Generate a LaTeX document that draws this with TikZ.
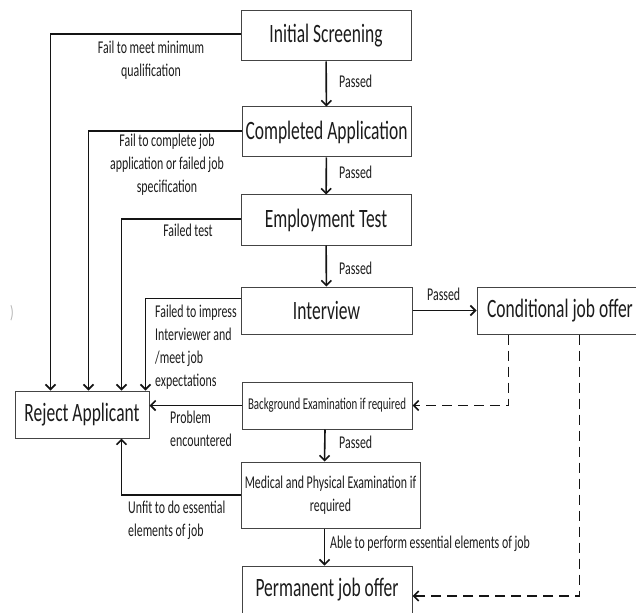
\documentclass[tikz,border=0pt]{standalone}
\usepackage{fontspec}
\setmainfont{Carlito}[FakeStretch=0.66]
\usetikzlibrary{arrows.meta,calc}
\definecolor{txt}{HTML}{1C1C1C}
\definecolor{boxc}{HTML}{444444}
\definecolor{linec}{HTML}{141414}
\begin{document}
\begin{tikzpicture}[x=1pt,y=-1pt,
  box/.style={draw=boxc, line width=1pt, fill=white, inner sep=0pt, text=txt, font=\fontsize{26.5}{30}\selectfont},
  lbl/.style={inner sep=0pt, text=txt, font=\fontsize{18}{23}\selectfont},
  conn/.style={line width=1.6pt, draw=linec},
  arr/.style={conn, -{Straight Barb[length=5pt,width=10pt]}},
  darr/.style={arr, line width=1.7pt, dash pattern=on 10pt off 6pt}]
\clip (0,0) rectangle (636,612);
\fill[white] (0,0) rectangle (636,612);

% boxes
\node[box, minimum width=170pt, minimum height=50pt] (IS) at (326,36) {Initial Screening};
\node[box, minimum width=169pt, minimum height=50pt] (CA) at (326.5,132) {Completed Application};
\node[box, minimum width=170pt, minimum height=50pt] (ET) at (326,220) {Employment Test};
\node[box, minimum width=171pt, minimum height=47pt] (IV) at (326.5,310.5) {Interview};
\node[box, minimum width=166pt, minimum height=47pt] (CJ) at (560,310.5) {Conditional job offer};
\node[box, minimum width=134pt, minimum height=47pt] (RA) at (82,414.5) {Reject Applicant};
\node[box, minimum width=170pt, minimum height=47pt, font=\fontsize{16.5}{20}\selectfont] (BG) at (327,405.5) {Background Examination if required};
\node[box, minimum width=179pt, minimum height=66pt, align=center, font=\fontsize{18}{23}\selectfont] (MD) at (330.5,495) {Medical and Physical Examination if\\required};
\node[box, minimum width=170pt, minimum height=48pt] (PJ) at (327,590) {Permanent job offer};

% main flow
\draw[arr] (IS) -- (CA);
\draw[arr] (CA) -- (ET);
\draw[arr] (ET) -- (IV);
\draw[arr] (IV) -- (CJ);
\draw[arr] ($(BG.south)+(-2,0)$) -- ($(MD.north west)+(84,0)$);
\draw[arr] ($(MD.south west)+(84,0)$) -- ($(PJ.north west)+(83,0)$);

% rejections
\draw[arr] ($(IS.west)+(0,-2)$) -| ($(RA.north west)+(36,0)$);
\draw[arr] ($(CA.west)+(0,-1)$) -| ($(RA.north west)+(74,0)$);
\draw[arr] ($(ET.west)+(0,-1)$) -| ($(RA.north west)+(107,0)$);
\draw[arr] ($(IV.north west)+(0,12)$) -| ($(RA.north west)+(131,0)$);
\draw[arr] (BG.west) -- (BG.west -| RA.east);
\draw[arr] (MD.west) -| ($(RA.south west)+(107,0)$);

% conditional offer (dashed)
\draw[darr] ($(CJ.south west)+(32,0)$) |- (BG.east);
\draw[darr] ($(CJ.south west)+(103,0)$) |- ($(PJ.east)+(0,6)$);

% labels
\node[lbl, align=center] (l1) at (151,60) {Fail to meet minimum\\qualification};
\node[lbl, align=center] (l2) at (167,164.5) {Fail to complete job\\application or failed job\\specification};
\node[lbl] (l3) at (188,230) {Failed test};
\node[lbl, anchor=west, align=left] (l4) at (155,347.5) {Failed to impress\\Interviewer and\\/meet job\\expectations};
\node[lbl, anchor=west, align=left] (l5) at (170,428.5) {Problem\\encountered};
\node[lbl, anchor=west, align=left] (l6) at (128,520) {Unfit to do essential\\elements of job};
\node[lbl, anchor=west] (l7) at (330,544) {Able to perform essential elements of job};
\node[lbl, anchor=west] (p1) at (339,81) {Passed};
\node[lbl, anchor=west] (p2) at (339,172) {Passed};
\node[lbl, anchor=west] (p3) at (339,268) {Passed};
\node[lbl, anchor=west] (p4) at (339,442) {Passed};
\node[lbl, anchor=west] (p5) at (427,294) {Passed};
\node[lbl, text=gray!60] (art) at (12,313) {)};
\end{tikzpicture}
\end{document}
